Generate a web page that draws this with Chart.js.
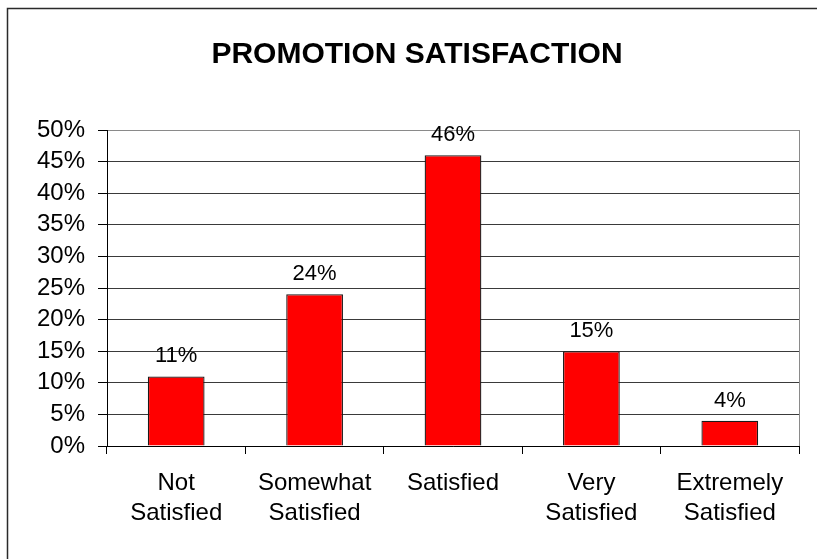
<!DOCTYPE html>
<html>
<head>
<meta charset="utf-8">
<title>Promotion Satisfaction</title>
<script src="https://cdn.jsdelivr.net/npm/chart.js@4.4.1/dist/chart.umd.min.js"></script>
<style>
  html, body { margin: 0; padding: 0; background: #ffffff; }
  #wrap { width: 817px; height: 559px; position: relative; }
</style>
</head>
<body>
<div id="wrap"><canvas id="chart" width="817" height="559"></canvas></div>
<script>
// Survey categories (multi-line axis labels)
const categories = [
  ['Not', 'Satisfied'],
  ['Somewhat', 'Satisfied'],
  ['Satisfied'],
  ['Very', 'Satisfied'],
  ['Extremely', 'Satisfied']
];
// Share of respondents per category, in percent
const satisfactionPct = [11, 24, 46, 15, 4];
// Value axis tick positions, in percent
const yTickValues = [0, 5, 10, 15, 20, 25, 30, 35, 40, 45, 50];

const FONT = '"Liberation Sans", Arial, Helvetica, sans-serif';

// Outer frame lines along the left and top edges of the page
const framePlugin = {
  id: 'frame',
  beforeDraw(chart) {
    const ctx = chart.ctx;
    ctx.save();
    ctx.strokeStyle = '#2a2a2a';
    ctx.lineWidth = 1.5;
    ctx.beginPath();
    ctx.moveTo(7.5, chart.height);
    ctx.lineTo(7.5, 8.5);
    ctx.lineTo(chart.width, 8.5);
    ctx.stroke();
    ctx.restore();
  }
};

// Grey right-hand edge of the plot area
const plotEdgePlugin = {
  id: 'plotEdge',
  beforeDatasetsDraw(chart) {
    const a = chart.chartArea;
    const ctx = chart.ctx;
    ctx.save();
    ctx.strokeStyle = '#8a8a8a';
    ctx.lineWidth = 1;
    ctx.beginPath();
    ctx.moveTo(a.right + 0.5, a.top);
    ctx.lineTo(a.right + 0.5, a.bottom);
    ctx.stroke();
    ctx.restore();
  }
};

// Percentage label above each bar
const valueLabelPlugin = {
  id: 'valueLabels',
  afterDatasetsDraw(chart) {
    const ctx = chart.ctx;
    const meta = chart.getDatasetMeta(0);
    const data = chart.data.datasets[0].data;
    ctx.save();
    ctx.font = '22px ' + FONT;
    ctx.fillStyle = '#000000';
    ctx.textAlign = 'center';
    ctx.textBaseline = 'alphabetic';
    meta.data.forEach((bar, i) => {
      ctx.fillText(data[i] + '%', bar.x, bar.y - 14);
    });
    ctx.restore();
  }
};

new Chart(document.getElementById('chart'), {
  type: 'bar',
  data: {
    labels: categories,
    datasets: [{
      data: satisfactionPct,
      backgroundColor: '#ff0000',
      borderColor: '#1a1a1a',
      borderWidth: 1.3,
      categoryPercentage: 1.0,
      barPercentage: 0.41
    }]
  },
  options: {
    responsive: false,
    animation: false,
    layout: { padding: { left: 35, right: 18, top: 0, bottom: 0 } },
    plugins: {
      legend: { display: false },
      tooltip: { enabled: false },
      title: {
        display: true,
        text: 'PROMOTION SATISFACTION',
        color: '#000000',
        font: { family: FONT, size: 30, weight: 'bold', lineHeight: 1.2 },
        padding: { top: 37, bottom: 57 }
      }
    },
    scales: {
      x: {
        offset: true,
        grid: {
          display: true,
          offset: true,
          drawOnChartArea: false,
          drawTicks: true,
          tickLength: 8,
          color: '#000000'
        },
        border: { display: true, color: '#000000', width: 1 },
        ticks: {
          color: '#000000',
          font: { family: FONT, size: 24, lineHeight: 1.25 },
          padding: 14,
          maxRotation: 0,
          autoSkip: false
        },
        afterFit(scale) { scale.height = 113; }
      },
      y: {
        min: 0,
        max: 50,
        afterBuildTicks(scale) {
          scale.ticks = yTickValues.map(v => ({ value: v }));
        },
        grid: {
          color: (c) => (c.tick && c.tick.value === 50 ? '#8a8a8a' : '#3a3a3a'),
          tickColor: '#000000',
          tickLength: 9,
          drawTicks: true
        },
        border: { display: true, color: '#000000', width: 1 },
        ticks: {
          color: '#000000',
          font: { family: FONT, size: 24 },
          padding: 13,
          autoSkip: false,
          callback: (v) => v + '%'
        },
        afterFit(scale) { scale.width = 72; }
      }
    }
  },
  plugins: [framePlugin, plotEdgePlugin, valueLabelPlugin]
});
</script>
</body>
</html>
